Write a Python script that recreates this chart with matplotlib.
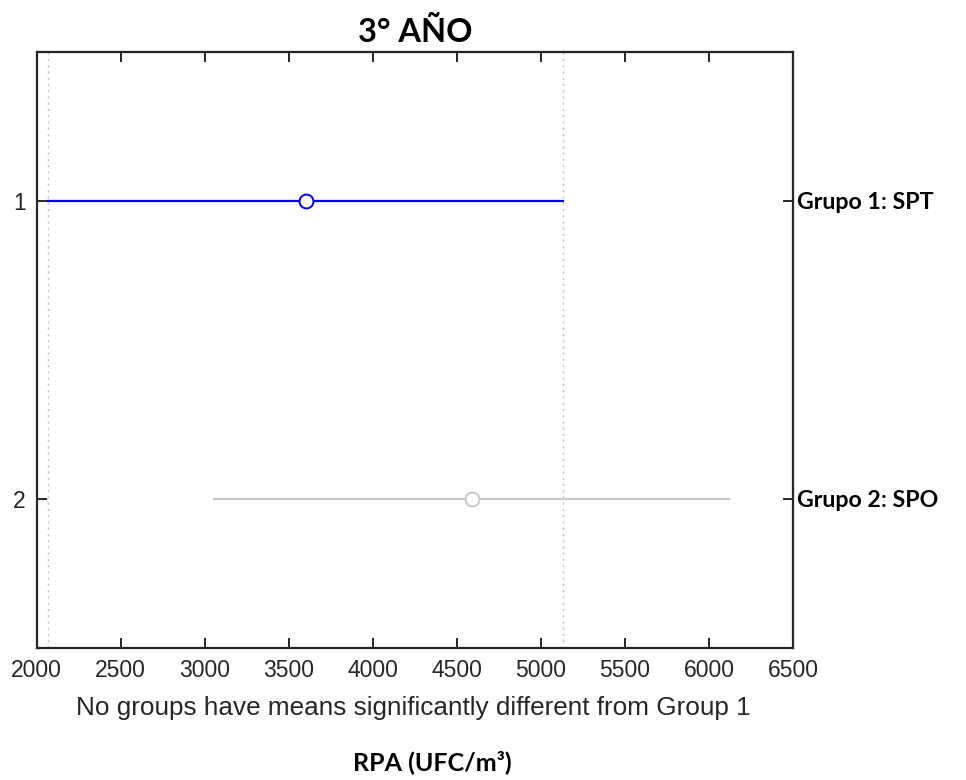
"""3° AÑO - comparación múltiple de medias (estilo multcompare)."""

import matplotlib
matplotlib.use("Agg")
import matplotlib.pyplot as plt

# datos
GROUPS = [1, 2]
GROUP_LABELS = ["Grupo 1: SPT", "Grupo 2: SPO"]
MEANS = [3602, 4587]
HALF_WIDTH = [1532, 1532]
COLORS = ["#0000ff", "#c8c8c8"]
XTICKS = [2000, 2500, 3000, 3500, 4000, 4500, 5000, 5500, 6000, 6500]

TITLE = "3° AÑO"
SUBTITLE = "No groups have means significantly different from Group 1"
XLABEL = "RPA (UFC/m³)"

EDGE = "#262626"

fig = plt.figure(figsize=(9.66, 7.8), dpi=100)
ax = fig.add_axes([0.038, 0.1696, 0.783, 0.7641])

# líneas punteadas en los límites del intervalo del grupo 1
lo1, hi1 = MEANS[0] - HALF_WIDTH[0], MEANS[0] + HALF_WIDTH[0]
for xv in (lo1, hi1):
    ax.axvline(xv, color="#c0c0c0", linestyle=(0, (1.5, 3)), linewidth=1.0, zorder=1)

for g, m, hw, c in zip(GROUPS, MEANS, HALF_WIDTH, COLORS):
    ax.plot([m - hw, m + hw], [g, g], color=c, linewidth=1.6, zorder=2)
    ax.plot(m, g, marker="o", markersize=10, markerfacecolor="white",
            markeredgecolor=c, markeredgewidth=1.4, linestyle="none", zorder=3)

ax.set_xlim(XTICKS[0], XTICKS[-1])
ax.set_ylim(2.5, 0.5)
ax.set_xticks(XTICKS)
ax.set_xticklabels([str(t) for t in XTICKS], fontsize=16.5,
                   family="Liberation Sans", color="#262626")
ax.set_yticks(GROUPS)
ax.set_yticklabels([str(g) for g in GROUPS], fontsize=16.5,
                   family="Liberation Sans", color="#262626")
ax.tick_params(direction="in", length=7, width=1.4, color=EDGE,
               top=True, right=True, pad=8)
for sp in ax.spines.values():
    sp.set_linewidth(1.6)
    sp.set_color(EDGE)

# etiquetas de grupo al lado derecho
ax2 = ax.twinx()
ax2.set_ylim(ax.get_ylim())
ax2.set_yticks(GROUPS)
ax2.set_yticklabels(GROUP_LABELS, fontsize=16.7, fontweight="bold", family="Lato")
ax2.tick_params(direction="in", length=7, width=1.4, color=EDGE, pad=3)
for sp in ax2.spines.values():
    sp.set_visible(False)

ax.set_title(TITLE, fontsize=23.5, fontweight="bold", family="Lato", pad=7)
fig.text(0.428, 0.092, SUBTITLE, ha="center", va="center",
         fontsize=18.8, family="Liberation Sans", color="#262626")
fig.text(0.448, 0.023, XLABEL, ha="center", va="center",
         fontsize=18, fontweight="bold", family="Lato")

fig.savefig("out.png", dpi=100)
